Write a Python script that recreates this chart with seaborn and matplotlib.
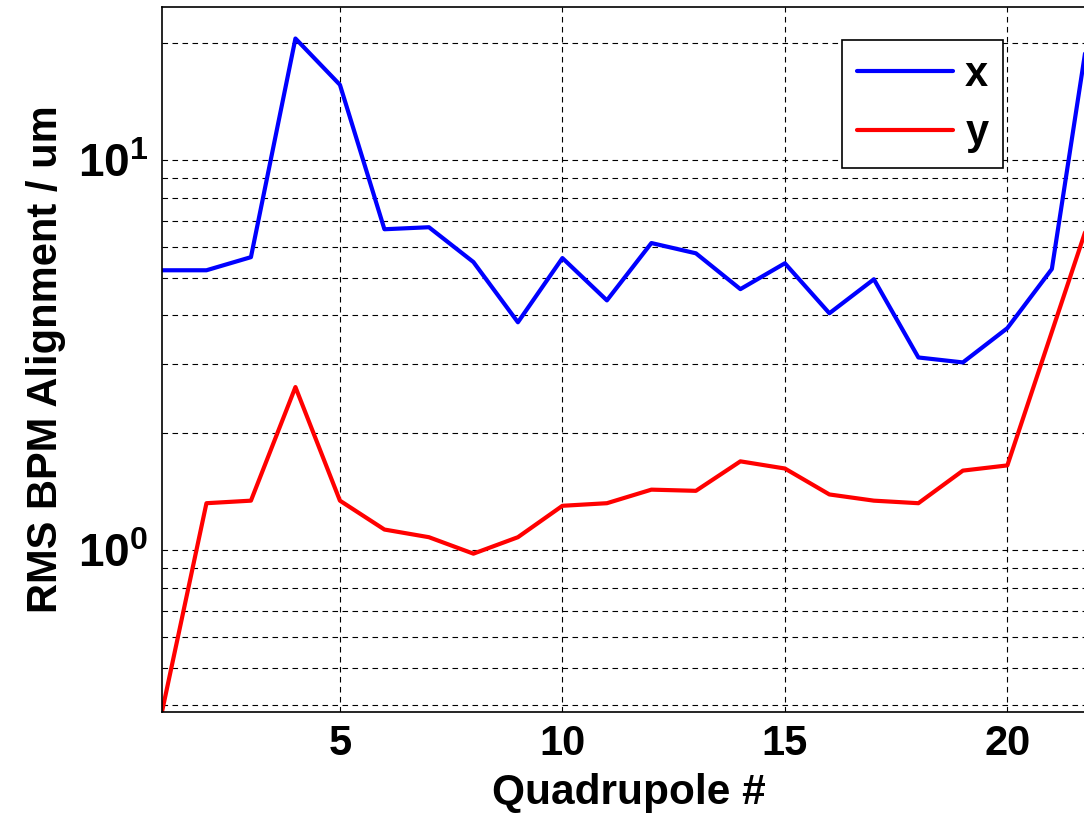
import matplotlib
matplotlib.use('Agg')
import matplotlib.pyplot as plt
import matplotlib.ticker as mticker
import numpy as np
import pandas as pd
import seaborn as sns

# values (log y axis)
quad = list(range(1, 23))
rms_x = [5.22, 5.22, 5.64, 20.5, 15.6, 6.65, 6.73, 5.48, 3.84, 5.61, 4.37,
         6.13, 5.77, 4.67, 5.44, 4.05, 4.95, 3.12, 3.03, 3.71, 5.26, 29.0]
rms_y = [0.385, 1.32, 1.34, 2.62, 1.34, 1.13, 1.08, 0.98, 1.08, 1.30, 1.32,
         1.43, 1.42, 1.69, 1.62, 1.39, 1.34, 1.32, 1.60, 1.65, 3.63, 7.98]
x_ticks = [5, 10, 15, 20]
y_ticks = [1, 10]
y_ticklabels = [r'$\mathbf{10^{0}}$', r'$\mathbf{10^{1}}$']

df = pd.DataFrame({'Quadrupole': quad * 2,
                   'RMS': rms_x + rms_y,
                   'plane': ['x'] * len(quad) + ['y'] * len(quad)})

sns.set_style('white')
plt.rcParams['font.family'] = ['Liberation Sans', 'DejaVu Sans']
plt.rcParams['font.weight'] = 'bold'
plt.rcParams['text.color'] = 'black'
plt.rcParams['xtick.color'] = 'black'
plt.rcParams['ytick.color'] = 'black'
plt.rcParams['axes.labelcolor'] = 'black'
plt.rcParams['mathtext.fontset'] = 'custom'
plt.rcParams['mathtext.bf'] = 'Liberation Sans:bold'
plt.rcParams['mathtext.rm'] = 'Liberation Sans:bold'

fig = plt.figure(figsize=(10.84, 8.16), dpi=100)
ax = fig.add_axes([0.1494, 0.1275, 0.862, 0.864])

sns.lineplot(data=df, x='Quadrupole', y='RMS', hue='plane',
             palette={'x': 'blue', 'y': 'red'}, linewidth=3, ax=ax)

ax.set_yscale('log')
ax.set_xlim(1, 22)
ax.set_ylim(0.385, 24.7)

ax.set_xticks(x_ticks)
ax.set_xticklabels([str(t) for t in x_ticks])
ax.yaxis.set_major_locator(mticker.FixedLocator(y_ticks))
ax.yaxis.set_major_formatter(mticker.FixedFormatter(y_ticklabels))
ax.yaxis.set_minor_locator(mticker.LogLocator(base=10, subs=np.arange(2, 10)))
ax.yaxis.set_minor_formatter(mticker.NullFormatter())

ax.tick_params(axis='x', which='major', direction='in', length=7,
               labelsize=30, width=1, pad=9, colors='black')
ax.tick_params(axis='y', which='major', direction='in', length=7,
               labelsize=33, width=1, pad=10, colors='black')
ax.tick_params(axis='y', which='minor', direction='in', length=4, width=1)

ax.grid(True, which='major', axis='both', color='black',
        linestyle=(0, (5, 4)), linewidth=0.8)
ax.grid(True, which='minor', axis='y', color='black',
        linestyle=(0, (5, 4)), linewidth=0.8)

for s in ax.spines.values():
    s.set_color('black')
    s.set_linewidth(1.2)

ax.set_xlabel('Quadrupole #', fontsize=30.5, fontweight='bold', labelpad=6)
ax.set_ylabel('RMS BPM Alignment / um', fontsize=30, fontweight='bold',
              labelpad=8)

handles, labels = ax.get_legend_handles_labels()
leg = ax.legend(handles, labels, loc='upper right',
                bbox_to_anchor=(0.900, 0.953), borderaxespad=0,
                frameon=True, fancybox=False,
                handlelength=2.3, handletextpad=0.3, borderpad=0.35,
                labelspacing=0.45, prop={'weight': 'bold', 'size': 30})
leg.get_frame().set_edgecolor('black')
leg.get_frame().set_linewidth(1.2)
leg.get_frame().set_alpha(1)
for t in leg.get_texts():
    t.set_color('black')

fig.savefig('out.png', dpi=100)
